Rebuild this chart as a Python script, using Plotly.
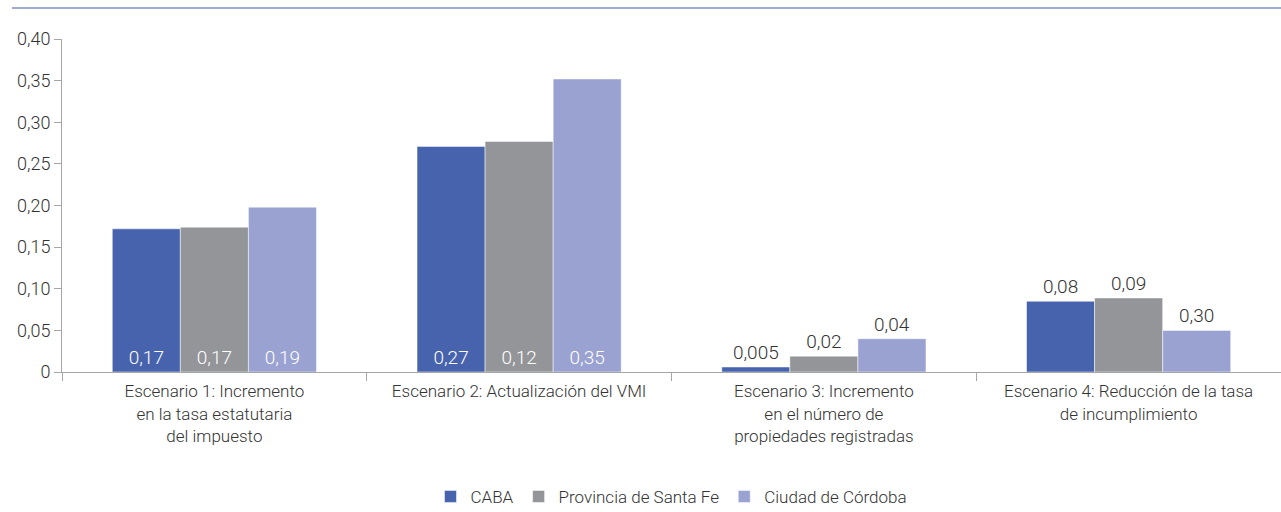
import plotly.graph_objects as go

categories = [
    "Escenario 1: Incremento<br>en la tasa estatutaria<br>del impuesto",
    "Escenario 2: Actualización del VMI",
    "Escenario 3: Incremento<br>en el número de<br>propiedades registradas",
    "Escenario 4: Reducción de la tasa<br>de incumplimiento",
]

caba = [0.172, 0.271, 0.006, 0.085]
santa_fe = [0.174, 0.277, 0.019, 0.089]
cordoba = [0.198, 0.352, 0.040, 0.050]

# labels as printed in the source (they don't always match the bar heights)
caba_labels = ["0,17", "0,27", "0,005", "0,08"]
santa_fe_labels = ["0,17", "0,12", "0,02", "0,09"]
cordoba_labels = ["0,19", "0,35", "0,04", "0,30"]

y_ticks = [0, 0.05, 0.10, 0.15, 0.20, 0.25, 0.30, 0.35, 0.40]
y_tick_text = ["0", "0,05", "0,10", "0,15", "0,20", "0,25", "0,30", "0,35", "0,40"]

FONT = "Roboto, Liberation Sans, sans-serif"
positions = ["inside", "inside", "outside", "outside"]

series = [
    ("CABA", caba, caba_labels, "#4763ae"),
    ("Provincia de Santa Fe", santa_fe, santa_fe_labels, "#939598"),
    ("Ciudad de Córdoba", cordoba, cordoba_labels, "#9aa2d1"),
]

fig = go.Figure()
for name, vals, labels, color in series:
    fig.add_trace(go.Bar(
        x=categories,
        y=vals,
        name=name,
        text=labels,
        textposition=positions,
        insidetextanchor="start",
        insidetextfont=dict(color="white", size=19, family=FONT, weight=300),
        outsidetextfont=dict(color="#333333", size=19, family=FONT, weight=300),
        textangle=0,
        cliponaxis=False,
        marker=dict(color=color, line=dict(color="white", width=0.5)),
    ))

fig.update_layout(
    width=1281,
    height=512,
    barmode="group",
    bargap=0.33,
    bargroupgap=0,
    plot_bgcolor="white",
    paper_bgcolor="white",
    font=dict(family=FONT, size=17, color="#333333", weight=300),
    margin=dict(l=62, r=0, t=39, b=140, autoexpand=False),
    legend=dict(
        orientation="h",
        x=0.5, xanchor="center",
        y=-0.375, yanchor="middle",
        font=dict(size=17, color="#333333", weight=300),
        itemwidth=30,
    ),
    xaxis=dict(
        automargin=False,
        showline=True,
        linecolor="#a6a6a6",
        linewidth=1,
        ticks="outside",
        tickson="boundaries",
        ticklen=8,
        tickcolor="#a6a6a6",
        ticklabelstandoff=4,
        tickfont=dict(size=17, color="#333333"),
    ),
    yaxis=dict(
        automargin=False,
        range=[0, 0.40],
        tickvals=y_ticks,
        ticktext=y_tick_text,
        showline=True,
        linecolor="#a6a6a6",
        ticks="outside",
        ticklen=7,
        tickcolor="#a6a6a6",
        showgrid=False,
        zeroline=False,
        tickfont=dict(size=18, color="#333333"),
    ),
    shapes=[dict(
        type="line", xref="paper", yref="paper",
        x0=-0.041, x1=1.0, y0=1.093, y1=1.093,
        line=dict(color="#7f8fc4", width=1.5),
    )],
)

# drop the browser's default body margin so the figure sits at the page corner
fig.write_html(
    "out.html",
    config={"displayModeBar": False},
    post_script="document.body.style.margin='0';",
)
